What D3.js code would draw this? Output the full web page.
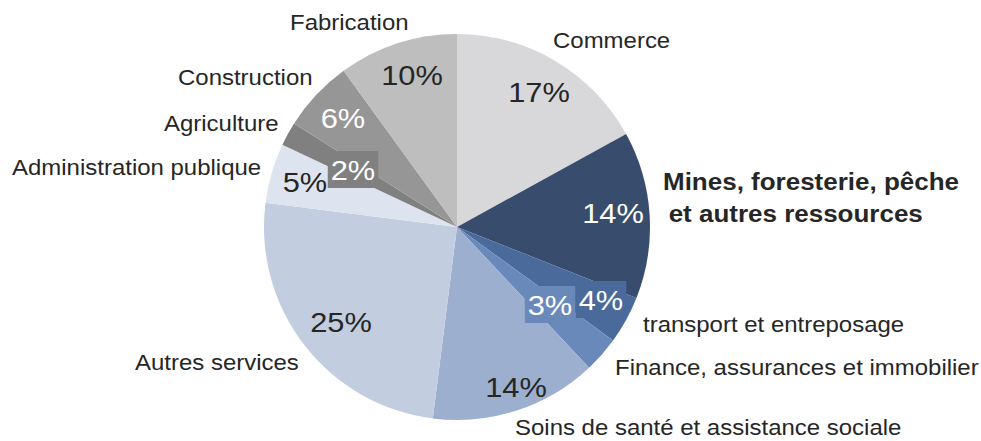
<!DOCTYPE html>
<html>
<head>
<meta charset="utf-8">
<script src="https://cdn.jsdelivr.net/npm/d3@7"></script>
<style>
  body { margin: 0; background: #fff; }
  text { font-family: "Liberation Sans", Arial, sans-serif; }
</style>
</head>
<body>
<div id="chart"></div>
<script>
// data
var categories = ["Commerce", "Mines, foresterie, pêche et autres ressources", "transport et entreposage",
  "Finance, assurances et immobilier", "Soins de santé et assistance sociale", "Autres services",
  "Administration publique", "Agriculture", "Construction", "Fabrication"]
var shares = [17, 14, 4, 3, 14, 25, 5, 2, 6, 10]
var colors = ["#d8d8da", "#384d6e", "#4a6a9c", "#6a89bb", "#9cafcf", "#c3cde0", "#dee4ef", "#808080", "#969696", "#bebebe"]

// layout of the labels (hand placed like the original)
var pctPos = [[539, 102], [613, 223], [601, 310], [550, 315], [516, 397], [341, 332], [305, 192], [353, 180], [343, 128], [412, 85]]
var pctWhite = [false, true, true, true, false, false, false, true, true, false]
var pctBox = [false, false, true, true, false, false, false, true, false, false]
var catPos = [[553, 48], [663, 190], [643, 332], [615, 375], [515, 435], [135, 370], [12, 175], [164, 131], [178, 85], [290, 30]]

var width = 981, height = 441
var cx = 457, cy = 227, radius = 193

var svg = d3.select("#chart").append("svg")
  .attr("width", width)
  .attr("height", height)

var pie = d3.pie().sort(null).value(d => d)
var arc = d3.arc().innerRadius(0).outerRadius(radius)

var g = svg.append("g").attr("transform", "translate(" + cx + "," + cy + ")")

g.selectAll("path").data(pie(shares)).enter().append("path")
  .attr("d", arc)
  .attr("fill", (d, i) => colors[i])

// percent labels
var pct = svg.append("g")
shares.forEach(function (v, i) {
  var lg = pct.append("g").attr("transform", "translate(" + pctPos[i][0] + "," + pctPos[i][1] + ")")
  var t = lg.append("text")
    .attr("text-anchor", "middle")
    .attr("transform", "scale(1.1,1)")
    .style("font-size", "28px")
    .attr("fill", pctWhite[i] ? "#ffffff" : "#262626")
    .text(v + "%")
  if (pctBox[i]) {
    var bb = t.node().getBBox()
    lg.insert("rect", "text")
      .attr("x", bb.x * 1.1 - 3)
      .attr("y", -29)
      .attr("width", bb.width * 1.1 + 6)
      .attr("height", 37)
      .attr("fill", colors[i])
  }
})

// category labels
var cats = svg.append("g")
categories.forEach(function (c, i) {
  var lg = cats.append("g").attr("transform", "translate(" + catPos[i][0] + "," + catPos[i][1] + ")")
  if (i == 1) {
    var t = lg.append("text")
      .attr("transform", "scale(1.13,1)")
      .style("font-size", "23px")
      .style("font-weight", "bold")
      .attr("fill", "#262626")
    t.append("tspan").attr("x", 0).attr("y", 0).text("Mines, foresterie, pêche")
    t.append("tspan").attr("x", 5).attr("y", 32).text("et autres ressources")
  } else {
    lg.append("text")
      .attr("transform", "scale(1.09,1)")
      .style("font-size", "22px")
      .attr("fill", "#262626")
      .text(c)
  }
})
</script>
</body>
</html>
